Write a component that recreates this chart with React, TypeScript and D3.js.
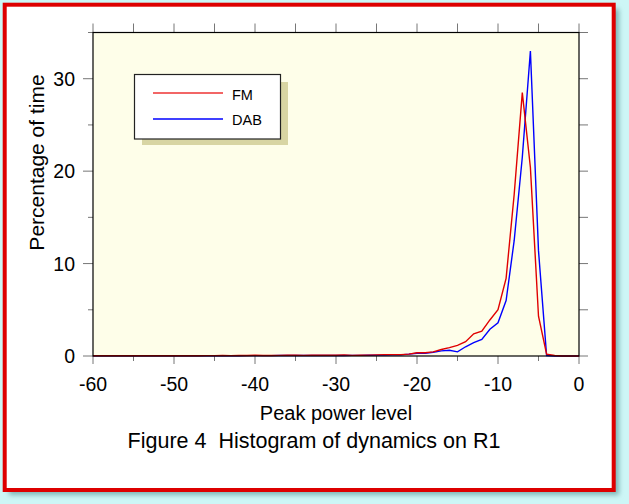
import React from "react";
import * as d3 from "d3";

// peak power level (dB), one bin per dB
const levels = [
  -60, -59, -58, -57, -56, -55, -54, -53, -52, -51,
  -50, -49, -48, -47, -46, -45, -44, -43, -42, -41,
  -40, -39, -38, -37, -36, -35, -34, -33, -32, -31,
  -30, -29, -28, -27, -26, -25, -24, -23, -22, -21,
  -20, -19, -18, -17, -16, -15, -14, -13, -12, -11,
  -10, -9, -8, -7, -6, -5, -4, -3, -2, -1, 0,
];

// percentage of time, FM
const fm = [
  0.02, 0.02, 0.02, 0.03, 0.02, 0.03, 0.03, 0.02, 0.03, 0.03,
  0.03, 0.03, 0.04, 0.03, 0.04, 0.04, 0.05, 0.04, 0.05, 0.06,
  0.08, 0.06, 0.06, 0.07, 0.08, 0.09, 0.07, 0.08, 0.08, 0.09,
  0.08, 0.12, 0.07, 0.08, 0.1, 0.12, 0.15, 0.15, 0.15, 0.2,
  0.35, 0.35, 0.45, 0.7, 0.9, 1.15, 1.55, 2.4, 2.7, 3.9,
  5.0, 8.4, 17.5, 28.5, 20.4, 4.3, 0.2, 0.05, 0, 0, 0,
];

// percentage of time, DAB
const dab = [
  0.01, 0.01, 0.01, 0.01, 0.01, 0.02, 0.01, 0.02, 0.02, 0.02,
  0.02, 0.02, 0.02, 0.03, 0.02, 0.03, 0.03, 0.03, 0.03, 0.04,
  0.04, 0.04, 0.04, 0.05, 0.05, 0.05, 0.05, 0.06, 0.06, 0.06,
  0.06, 0.06, 0.07, 0.07, 0.08, 0.1, 0.1, 0.12, 0.12, 0.2,
  0.3, 0.3, 0.4, 0.55, 0.62, 0.45, 1.0, 1.45, 1.8, 2.9,
  3.6, 6.0, 12.5, 21.5, 33.0, 11.4, 0.05, 0, 0, 0, 0,
];

const xMajor = [-60, -50, -40, -30, -20, -10, 0];
const xMinor = [-55, -45, -35, -25, -15, -5];
const yMajor = [0, 10, 20, 30];
const yMinor = [5, 15, 25, 35];

const font = "'Liberation Sans', Arial, Helvetica, sans-serif";

export default function App() {
  const W = 629;
  const H = 504;
  const plot = { left: 93, right: 579, top: 32.5, bottom: 356 };

  const x = d3.scaleLinear().domain([-60, 0]).range([plot.left, plot.right]);
  const y = d3.scaleLinear().domain([0, 35]).range([plot.bottom, plot.top]);

  const line = d3
    .line<number>()
    .x((_, i) => x(levels[i]))
    .y((d) => y(d));

  const tick = "#777";

  return (
    <svg
      width={W}
      height={H}
      style={{ position: "absolute", left: 0, top: 0 }}
      fontFamily={font}
    >
      <defs>
        <filter id="shadow" x="-10%" y="-10%" width="120%" height="120%">
          <feGaussianBlur stdDeviation="2.5" />
        </filter>
      </defs>
      {/* page background and frame */}
      <rect x={0} y={0} width={W} height={H} fill="#cdf6f6" />
      <rect x={9} y={9} width={610} height={486} fill="#7fb6b6" filter="url(#shadow)" />
      <rect x={4.7} y={4.7} width={609} height={485.3} fill="#ffffff" stroke="#dd0000" strokeWidth={4} />

      {/* plot area */}
      <rect
        x={plot.left}
        y={plot.top}
        width={plot.right - plot.left}
        height={plot.bottom - plot.top}
        fill="#fefee9"
      />

      {/* ticks */}
      <g stroke={tick} strokeWidth={1}>
        {yMajor.map((v) => (
          <g key={"ym" + v}>
            <line x1={plot.left - 10} x2={plot.left} y1={y(v)} y2={y(v)} />
            <line x1={plot.right} x2={plot.right + 9} y1={y(v)} y2={y(v)} />
          </g>
        ))}
        {yMinor.map((v) => (
          <g key={"yn" + v}>
            <line x1={plot.left - 5} x2={plot.left} y1={y(v)} y2={y(v)} />
            <line x1={plot.right} x2={plot.right + 9} y1={y(v)} y2={y(v)} />
          </g>
        ))}
        {xMajor.map((v) => (
          <g key={"xm" + v}>
            <line x1={x(v)} x2={x(v)} y1={plot.bottom} y2={plot.bottom + 8} />
            <line x1={x(v)} x2={x(v)} y1={plot.top - 9} y2={plot.top} />
          </g>
        ))}
        {xMinor.map((v) => (
          <g key={"xn" + v}>
            <line x1={x(v)} x2={x(v)} y1={plot.bottom} y2={plot.bottom + 5} />
            <line x1={x(v)} x2={x(v)} y1={plot.top - 9} y2={plot.top} />
          </g>
        ))}
      </g>

      {/* data */}
      <path d={line(dab) ?? ""} fill="none" stroke="#0000ff" strokeWidth={1.4} />
      <path d={line(fm) ?? ""} fill="none" stroke="#e00000" strokeWidth={1.4} />

      <rect
        x={plot.left}
        y={plot.top}
        width={plot.right - plot.left}
        height={plot.bottom - plot.top}
        fill="none"
        stroke="#000"
        strokeWidth={1.2}
      />

      {/* tick labels */}
      {yMajor.map((v) => (
        <text key={"yl" + v} x={75} y={y(v) + 7} fontSize={19.5} textAnchor="end" fill="#000">
          {v}
        </text>
      ))}
      {xMajor.map((v) => (
        <text key={"xl" + v} x={x(v)} y={390.5} fontSize={19.5} textAnchor="middle" fill="#000">
          {v}
        </text>
      ))}

      {/* axis titles */}
      <text x={336} y={420} fontSize={20} textAnchor="middle">
        Peak power level
      </text>
      <text x={314} y={447.5} fontSize={21.5} textAnchor="middle">
        Figure 4{"\u00a0\u00a0"}Histogram of dynamics on R1
      </text>
      <text
        transform="translate(43.5,162.5) rotate(-90)"
        fontSize={21}
        textAnchor="middle"
      >
        Percentage of time
      </text>

      {/* legend */}
      <rect x={142} y={82} width={146} height={63} fill="#d8d5a3" />
      <rect x={134.5} y={74.5} width={146} height={64.5} fill="#fff" stroke="#222" strokeWidth={1.2} />
      <line x1={153} x2={223} y1={93} y2={93} stroke="#ee3333" strokeWidth={1.4} />
      <line x1={153} x2={223} y1={119} y2={119} stroke="#0000ff" strokeWidth={1.4} />
      <text x={232} y={99.5} fontSize={14.5}>
        FM
      </text>
      <text x={232} y={124.5} fontSize={14.5}>
        DAB
      </text>
    </svg>
  );
}
